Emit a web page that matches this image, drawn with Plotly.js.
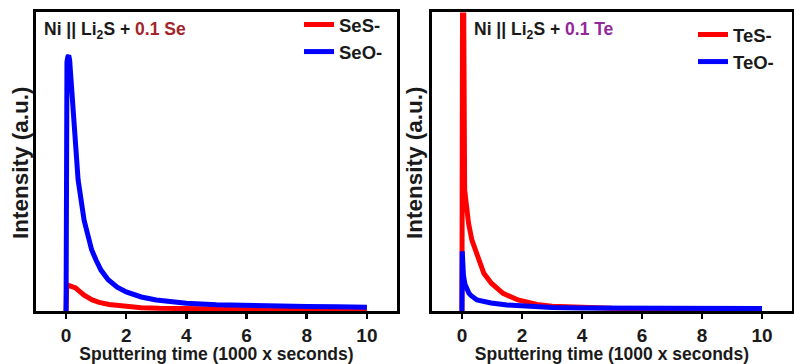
<!DOCTYPE html>
<html>
<head>
<meta charset="utf-8">
<script src="https://cdn.plot.ly/plotly-3.0.1.min.js"></script>
<style>html,body{margin:0;padding:0;background:#fff;}#chart{width:794px;height:364px;}</style>
</head>
<body>
<div id="chart"></div>
<script>
// ---- data (time in 1000 s, intensity in a.u.) ----
var seS_x = [0, 0.02, 0.1, 0.2, 0.32, 0.45, 0.6, 0.87, 1.1, 1.43, 2.0, 2.5, 3.1, 4, 5, 6, 8, 10];
var seS_y = [0, 0.08, 0.085, 0.083, 0.077, 0.066, 0.053, 0.037, 0.029, 0.022, 0.014, 0.011, 0.009, 0.007, 0.006, 0.006, 0.005, 0.005];

var seO_x = [0, 0.01, 0.03, 0.06, 0.09, 0.12, 0.16, 0.2, 0.27, 0.4, 0.6, 0.85, 1.0, 1.16, 1.4, 1.7, 2.0, 2.5, 3.0, 3.5, 4, 5, 6, 7, 8, 9, 10];
var seO_y = [0, 0.76, 0.835, 0.852, 0.856, 0.84, 0.79, 0.73, 0.6, 0.44, 0.304, 0.205, 0.17, 0.137, 0.105, 0.08, 0.064, 0.047, 0.037, 0.03, 0.026, 0.021, 0.018, 0.016, 0.015, 0.014, 0.013];

var teS_x = [0, 0.03, 0.09, 0.14, 0.22, 0.33, 0.51, 0.73, 0.98, 1.37, 1.87, 2.5, 3, 4, 5, 6, 8, 10];
var teS_y = [0, 1.6, 0.406, 0.35, 0.294, 0.238, 0.182, 0.126, 0.093, 0.059, 0.037, 0.022, 0.016, 0.011, 0.009, 0.008, 0.007, 0.006];

var teO_x = [0, 0.01, 0.05, 0.1, 0.23, 0.3, 0.5, 0.75, 0.97, 1.5, 2, 3, 4, 6, 8, 10];
var teO_y = [0, 0.2, 0.12, 0.09, 0.06, 0.052, 0.037, 0.031, 0.027, 0.02, 0.016, 0.012, 0.01, 0.009, 0.008, 0.008];

var xTicks = [0, 2, 4, 6, 8, 10];
var names = ['SeS-', 'SeO-', 'TeS-', 'TeO-'];

var RED = '#ff0000', BLUE = '#0000ff';
var FONT = 'Arial, "Liberation Sans", sans-serif';
var INK = '#1a1a1a';

function tr(x, y, name, color, xa, ya, leg) {
  return {x: x, y: y, name: '<b>' + name + '</b>', type: 'scatter', mode: 'lines',
    line: {color: color, width: 5}, xaxis: xa, yaxis: ya, legend: leg};
}
var data = [
  tr(seS_x, seS_y, names[0], RED, 'x', 'y', 'legend'),
  tr(seO_x, seO_y, names[1], BLUE, 'x', 'y', 'legend'),
  tr(teS_x, teS_y, names[2], RED, 'x2', 'y2', 'legend2'),
  tr(teO_x, teO_y, names[3], BLUE, 'x2', 'y2', 'legend2')
];

function xax(dom) {
  return {domain: dom, range: [-1, 11], tickvals: xTicks, ticktext: xTicks.map(function(v){return '<b>' + v + '</b>';}),
    ticks: 'outside', ticklen: 5, tickwidth: 2.5, tickcolor: '#000',
    showline: true, linewidth: 3, linecolor: '#000', mirror: true,
    showgrid: false, zeroline: false,
    tickfont: {family: FONT, size: 19, color: INK},
    title: {text: '<b>Sputtering time (1000 x seconds)</b>', font: {family: FONT, size: 17.5, color: INK}, standoff: 0}};
}
function yax(dom, anchor) {
  return {domain: dom, range: [0, 1], anchor: anchor, showticklabels: false, ticks: '',
    showline: true, linewidth: 3, linecolor: '#000', mirror: true,
    showgrid: false, zeroline: false};
}
var yd = [0.1456, 0.9657];
var layout = {
  width: 794, height: 364,
  margin: {l: 0, r: 0, t: 0, b: 0},
  paper_bgcolor: '#fff', plot_bgcolor: '#fff',
  font: {family: FONT, color: INK},
  xaxis: xax([0.0453, 0.5]),
  yaxis: yax(yd, 'x'),
  xaxis2: Object.assign(xax([0.544, 0.9975]), {anchor: 'y2'}),
  yaxis2: yax(yd, 'x2'),
  legend: {x: 299/794, y: 1 - 6/364, xanchor: 'left', yanchor: 'top', bgcolor: 'rgba(0,0,0,0)',
    font: {family: FONT, size: 18.5, color: INK}},
  legend2: {x: 693/794, y: 1 - 16/364, xanchor: 'left', yanchor: 'top', bgcolor: 'rgba(0,0,0,0)',
    font: {family: FONT, size: 18.5, color: INK}},
  showlegend: true,
  annotations: [
    {xref: 'paper', yref: 'paper', x: 42/794, y: 1 - 30/364, xanchor: 'left', yanchor: 'middle', showarrow: false,
      text: '<b>Ni || Li<sub>2</sub>S + <span style="color:#a3262a">0.1 Se</span></b>', font: {family: FONT, size: 17.5, color: INK}},
    {xref: 'paper', yref: 'paper', x: 472/794, y: 1 - 30/364, xanchor: 'left', yanchor: 'middle', showarrow: false,
      text: '<b>Ni || Li<sub>2</sub>S + <span style="color:#93289c">0.1 Te</span></b>', font: {family: FONT, size: 17.5, color: INK}},
    {xref: 'paper', yref: 'paper', x: 20/794, y: 1 - 163/364, xanchor: 'center', yanchor: 'middle', showarrow: false, textangle: -90,
      text: '<b>Intensity (a.u.)</b>', font: {family: FONT, size: 22.5, color: INK}},
    {xref: 'paper', yref: 'paper', x: 414/794, y: 1 - 163/364, xanchor: 'center', yanchor: 'middle', showarrow: false, textangle: -90,
      text: '<b>Intensity (a.u.)</b>', font: {family: FONT, size: 22.5, color: INK}}
  ]
};
Plotly.newPlot('chart', data, layout, {displayModeBar: false, staticPlot: true});
</script>
</body>
</html>
